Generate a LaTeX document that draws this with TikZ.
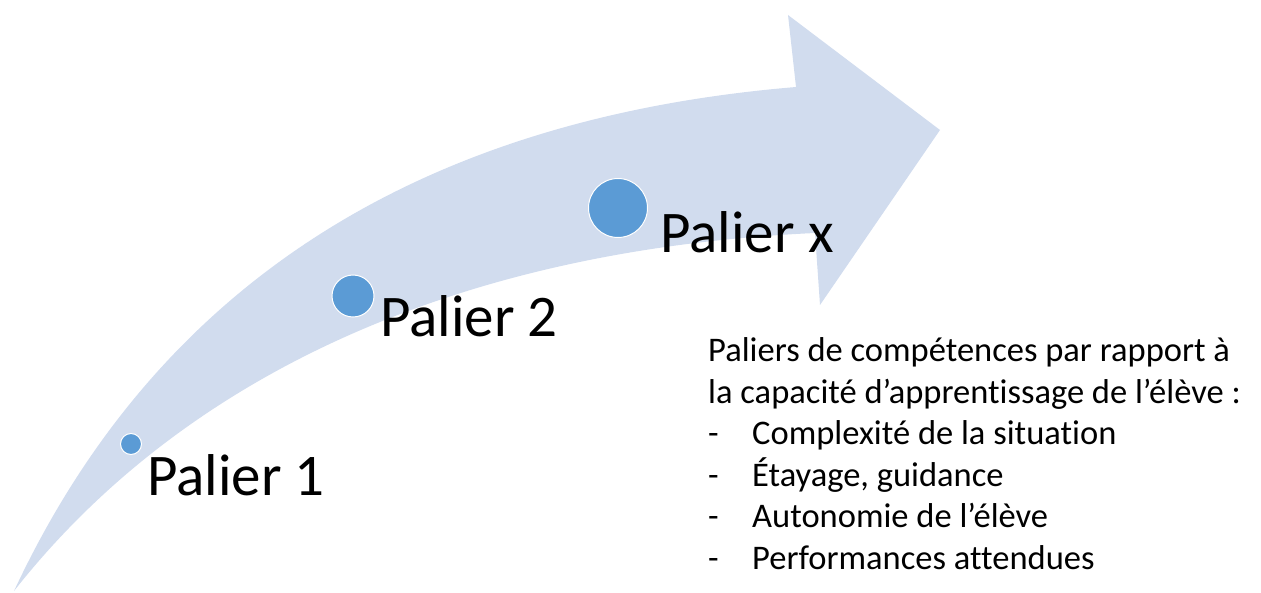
\documentclass[tikz,border=0pt]{standalone}
\usepackage{fontspec}
\setmainfont{Carlito}[Ligatures={NoCommon}]
\usetikzlibrary{positioning, calc}
\definecolor{arrowfill}{HTML}{D1DCEE}
\definecolor{dotblue}{HTML}{5B9BD5}
\tikzset{
    dot/.style={circle, fill=dotblue, draw=white, line width=1pt, inner sep=0pt},
    palier/.style={font=\fontsize{59}{70}\selectfont, inner sep=0pt, anchor=base west},
    notes/.style={font=\fontsize{34.5}{41.5}\selectfont, inner sep=0pt, anchor=base west}
}

\begin{document}
\begin{tikzpicture}[x=1pt, y=-1pt]
\useasboundingbox (0,0) rectangle (1261,593);

% Big curved arrow
\coordinate (tail) at (14,591);
\coordinate (top) at (796,87);
\coordinate (bot) at (815,233);
\fill[arrowfill] (tail) .. controls (150,300) and (400,120) .. (top)
    -- (788,15) -- (940,130) -- (820,305) -- (bot)
    .. controls (450,250) and (180,380) .. (tail) -- cycle;

% Steps
\node[dot, minimum size=21pt] (c1) at (131,444) {};
\node[dot, minimum size=42pt] (c2) at (353,296) {};
\node[dot, minimum size=59pt] (cx) at (618,208) {};

\node[palier] (p1) at (147,495) {Palier 1};
\node[palier] (p2) at (380,337) {Palier 2};
\node[palier] (px) at (660,253) {Palier x};

% Notes
\node[notes] (notes) at (708,362) {\begin{tabular}[t]{@{}l@{}}
Paliers de compétences par rapport à\\
la capacité d’apprentissage de l’élève :\\
\makebox[44pt][l]{-}Complexité de la situation\\
\makebox[44pt][l]{-}Étayage, guidance\\
\makebox[44pt][l]{-}Autonomie de l’élève\\
\makebox[44pt][l]{-}Performances attendues
\end{tabular}};

\end{tikzpicture}
\end{document}
